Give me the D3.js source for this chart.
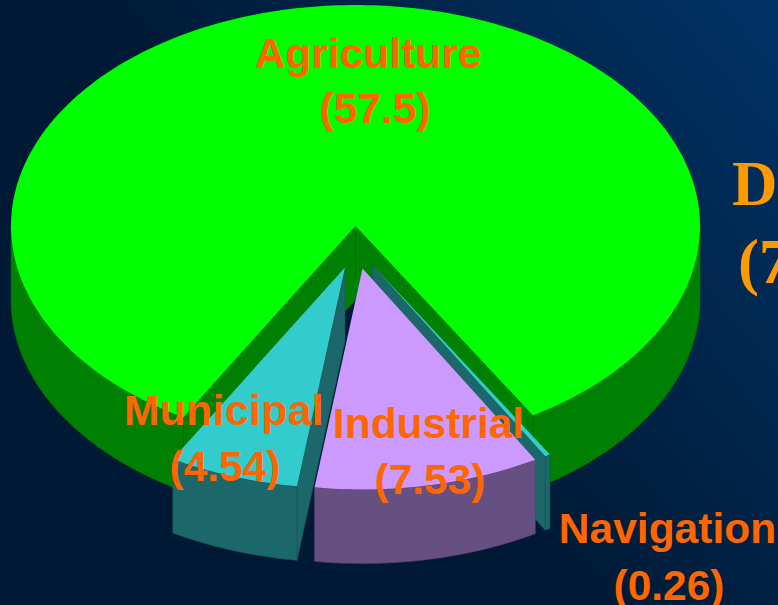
<!DOCTYPE html>
<html>
<head>
<meta charset="utf-8">
<script src="https://d3js.org/d3.v7.min.js"></script>
<style>
  html, body { margin: 0; padding: 0; overflow: hidden; background: #001a33; }
  svg { display: block; }
  .label { font-family: "Liberation Sans", Arial, sans-serif; font-weight: bold; font-size: 42.5px; fill: #ff6600; text-anchor: middle; }
  .side { font-family: "Liberation Serif", "Times New Roman", serif; font-weight: bold; font-size: 63px; fill: #ff9900; }
</style>
</head>
<body>
<svg id="chart" width="778" height="605"></svg>
<script>
// clockwise from the left edge of the big slice
const sectors = ["Agriculture", "Navigation", "Industrial", "Municipal"];
const amounts = [57.5, 0.26, 7.53, 4.54];
const sideLabels = ["Di", "(7"];

const svg = d3.select("#chart");
const width = +svg.attr("width");
const height = +svg.attr("height");

const cx = 356, cy = 226, rx = 344.5, ry = 221, depth = 74;

const topColor = { Agriculture: "#00ff00", Navigation: "#33cccc", Industrial: "#cc99ff", Municipal: "#33cccc" };
const wallColor = { Agriculture: "#008000", Navigation: "#1c6769", Industrial: "#665082", Municipal: "#1c6769" };
const edgeColor = { Agriculture: "#006a00", Navigation: "#175658", Industrial: "#56436e", Municipal: "#175658" };
// how far each slice is pulled out of the pie
const pulled = { Agriculture: [-0.5, 0], Navigation: [16.5, 39], Industrial: [6.5, 42.5], Municipal: [-11, 41.5] };

const labelSpots = [
  { text: "Agriculture", x: 368, y: 68 },
  { text: "(" + amounts[0] + ")", x: 375, y: 123 },
  { text: sectors[3], x: 224, y: 425, spacing: 0.45 },
  { text: "(" + amounts[3] + ")", x: 225, y: 481 },
  { text: sectors[2], x: 428.5, y: 438 },
  { text: "(" + amounts[2] + ")", x: 430, y: 494 },
  { text: sectors[1], x: 667.5, y: 543 },
  { text: "(" + amounts[1] + ")", x: 669, y: 600 }
];

const grad = svg.append("defs").append("linearGradient")
  .attr("id", "bg")
  .attr("gradientUnits", "userSpaceOnUse")
  .attr("x1", 778).attr("y1", 0)
  .attr("x2", 369).attr("y2", 336);
grad.append("stop").attr("offset", 0).attr("stop-color", "#003366");
grad.append("stop").attr("offset", 1).attr("stop-color", "#001a35");

svg.append("rect").attr("width", width).attr("height", height).attr("fill", "url(#bg)");

const rad = d => d * Math.PI / 180;
const start = rad(210);

const pie = d3.pie().sort(null).value(d => d.value)
  .startAngle(start).endAngle(start + 2 * Math.PI);
const slices = pie(sectors.map((name, i) => ({ name: name, value: amounts[i] })));

// the tilted view bends the angles a bit, so pie angle -> drawn angle
const warp = d3.scaleLinear()
  .domain([start, slices[0].endAngle, slices[1].endAngle, slices[2].endAngle, start + 2 * Math.PI])
  .range([start, rad(509), rad(509.9), rad(548), start + 2 * Math.PI]);

function pt(a, off, drop) {
  return [cx + off[0] + rx * Math.sin(a), cy + off[1] + drop - ry * Math.cos(a)];
}

function arcPoints(a0, a1, off, drop) {
  const n = Math.max(2, Math.ceil((a1 - a0) / rad(1)));
  return d3.range(n + 1).map(i => pt(a0 + (a1 - a0) * i / n, off, drop));
}

const line = d3.line();

function drawWall(g, pts, s) {
  g.append("path")
    .attr("d", line(pts) + "Z")
    .attr("fill", wallColor[s.data.name])
    .attr("stroke", edgeColor[s.data.name])
    .attr("stroke-width", 0.6);
}

function drawSlice(s) {
  const name = s.data.name;
  const off = pulled[name];
  const a0 = warp(s.startAngle), a1 = warp(s.endAngle);
  const g = svg.append("g").attr("class", "slice");
  const center = [cx + off[0], cy + off[1]];
  const centerLow = [center[0], center[1] + depth];

  // outside wall, only the part that faces the viewer
  [[rad(90), rad(270)], [rad(450), rad(630)]].forEach(span => {
    const lo = Math.max(a0, span[0]), hi = Math.min(a1, span[1]);
    if (hi > lo) {
      const upper = arcPoints(lo, hi, off, 0);
      const lower = arcPoints(lo, hi, off, depth).reverse();
      drawWall(g, upper.concat(lower), s);
    }
  });

  // cut walls
  if (Math.sin(a0) < 0) {
    drawWall(g, [center, pt(a0, off, 0), pt(a0, off, depth), centerLow], s);
  }
  if (Math.sin(a1) > 0) {
    drawWall(g, [center, pt(a1, off, 0), pt(a1, off, depth), centerLow], s);
  }

  g.append("path")
    .attr("d", line([center].concat(arcPoints(a0, a1, off, 0))) + "Z")
    .attr("fill", topColor[name]);
}

// back to front
["Agriculture", "Navigation", "Municipal", "Industrial"].forEach(name => {
  drawSlice(slices.find(s => s.data.name === name));
});

svg.selectAll(".label").data(labelSpots)
  .enter()
  .append("text")
  .attr("class", "label")
  .attr("x", d => d.x)
  .attr("y", d => d.y)
  .style("letter-spacing", d => d.spacing ? d.spacing + "px" : null)
  .text(d => d.text);

svg.append("text").attr("class", "side").attr("x", 732).attr("y", 205).text(sideLabels[0]);
svg.append("text").attr("class", "side").attr("x", 738).attr("y", 283).text(sideLabels[1]);
</script>
</body>
</html>
